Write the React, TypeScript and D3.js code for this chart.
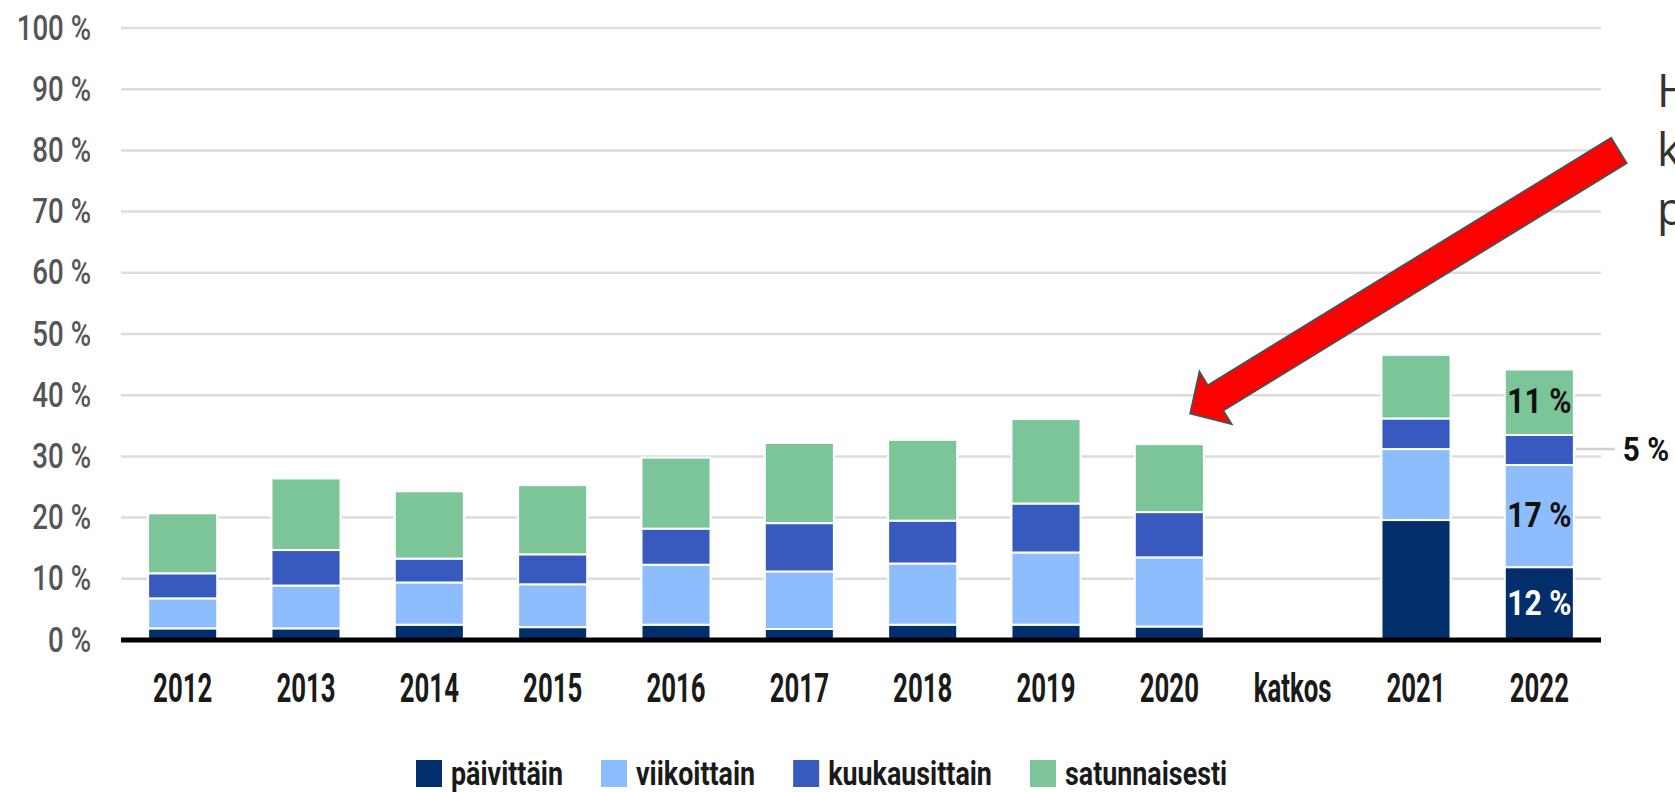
import React from 'react';
import * as d3 from 'd3';

const categories = ['2012', '2013', '2014', '2015', '2016', '2017', '2018', '2019', '2020', 'katkos', '2021', '2022'];
const paivittain = [1.9, 1.9, 2.5, 2.1, 2.5, 1.8, 2.5, 2.5, 2.2, null, 19.6, 11.9];
const viikoittain = [4.9, 7.0, 6.9, 7.0, 9.8, 9.4, 10.0, 11.8, 11.3, null, 11.6, 16.7];
const kuukausittain = [4.1, 5.8, 3.9, 4.9, 5.9, 7.9, 7.0, 8.0, 7.4, null, 5.0, 4.9];
const satunnaisesti = [9.8, 11.7, 11.0, 11.3, 11.6, 13.1, 13.2, 13.8, 11.1, null, 10.4, 10.7];
const seriesNames = ['päivittäin', 'viikoittain', 'kuukausittain', 'satunnaisesti'];
const seriesColors = ['#022f6b', '#8ebdfd', '#3859bd', '#7bc598'];
const yTicks = [0, 10, 20, 30, 40, 50, 60, 70, 80, 90, 100];
const labelledCategory = '2022';
const labelledTexts = ['12 %', '17 %', '5 %', '11 %'];
const outsideLabelIndex = 2;
const sideText = ['H', 'k', 'p'];

const W = 1675;
const H = 792;

function measure(text: string, font: string): number {
  const c = document.createElement('canvas').getContext('2d');
  if (!c) return text.length * 15;
  c.font = font;
  return c.measureText(text).width;
}

function SText(props: { x: number; y: number; sx: number; anchor?: string; size: number; weight: number; fill: string; family?: string; children: React.ReactNode }) {
  const { x, y, sx, anchor = 'start', size, weight, fill, family = 'Roboto', children } = props;
  return (
    <g transform={`translate(${x},${y}) scale(${sx},1)`}>
      <text textAnchor={anchor} fontFamily={family} fontSize={size} fontWeight={weight} fill={fill}>
        {children}
      </text>
    </g>
  );
}

export default function App() {
  const x = d3.scaleBand<string>().domain(categories).range([121, 1601]).paddingInner(0.44).paddingOuter(0.22);
  const y = d3.scaleLinear().domain([0, 100]).range([640, 28]);

  const rows = categories.map((c, i) => ({
    cat: c,
    'päivittäin': paivittain[i] ?? 0,
    'viikoittain': viikoittain[i] ?? 0,
    'kuukausittain': kuukausittain[i] ?? 0,
    'satunnaisesti': satunnaisesti[i] ?? 0,
  }));
  const stacked = d3.stack<any>().keys(seriesNames)(rows);

  // arrow annotation
  const tip: [number, number] = [(x('2020') as number) + x.bandwidth() * 0.8, y(37)];
  const tail: [number, number] = [x.range()[1] + 18, y(80)];
  const dx = tip[0] - tail[0];
  const dy = tip[1] - tail[1];
  const len = Math.hypot(dx, dy);
  const ux = dx / len, uy = dy / len;
  const px = -uy, py = ux;
  const hw = 15, hh = 31, hl = 30;
  const bx = tip[0] - ux * hl, by = tip[1] - uy * hl;
  const pts = [
    [tail[0] + px * hw, tail[1] + py * hw],
    [bx + px * hw, by + py * hw],
    [bx + px * hh, by + py * hh],
    tip,
    [bx - px * hh, by - py * hh],
    [bx - px * hw, by - py * hw],
    [tail[0] - px * hw, tail[1] - py * hw],
  ];
  const arrowPath = d3.line()(pts as [number, number][]) + 'Z';

  // legend layout
  const legendSize = 34;
  const legendSx = 0.79;
  const legendFont = `bold ${legendSize}px Roboto`;
  let lx = 416;
  const legendItems = seriesNames.map((name, i) => {
    const tw = measure(name, legendFont) * legendSx;
    const item = { name, color: seriesColors[i], x: lx, tw };
    lx += 35 + tw + 38;
    return item;
  });

  const li = categories.indexOf(labelledCategory);

  return (
    <div style={{ position: 'absolute', left: 0, top: 0 }}>
      <svg width={W} height={H} style={{ display: 'block', overflow: 'hidden' }}>
        <rect x={0} y={0} width={W} height={H} fill="#ffffff" />
        {/* grid */}
        {yTicks.filter((t) => t > 0).map((t) => (
          <line key={t} x1={121} x2={1601} y1={y(t)} y2={y(t)} stroke="#dcdcdc" strokeWidth={2.5} />
        ))}
        {/* y labels */}
        {yTicks.map((t) => (
          <SText key={t} x={91} y={y(t) + 11.5} sx={0.79} anchor="end" size={35} weight={500} fill="#555555">
            {`${t} %`}
          </SText>
        ))}
        {/* bars */}
        {stacked.map((s, si) => (
          <g key={s.key} fill={seriesColors[si]}>
            {s.map((d, i) =>
              d[1] - d[0] > 0 ? (
                <rect
                  key={i}
                  x={x(categories[i])}
                  width={x.bandwidth()}
                  y={y(d[1])}
                  height={y(d[0]) - y(d[1])}
                  stroke="#ffffff"
                  strokeWidth={2}
                />
              ) : null
            )}
          </g>
        ))}
        {/* baseline */}
        <line x1={121} x2={1601} y1={y(0)} y2={y(0)} stroke="#000000" strokeWidth={5} />
        {/* in-bar labels */}
        {stacked.map((s, si) => {
          const d = s[li];
          const mid = y((d[0] + d[1]) / 2);
          const cx = (x(labelledCategory) as number) + x.bandwidth() / 2;
          if (si === outsideLabelIndex) {
            const right = (x(labelledCategory) as number) + x.bandwidth();
            return (
              <g key={s.key}>
                <line x1={right + 2} x2={right + 41} y1={mid - 1} y2={mid - 1} stroke="#d0d0d0" strokeWidth={2.5} />
                <SText x={right + 49} y={mid + 11} sx={0.9} size={33} weight={700} fill="#111111">
                  {labelledTexts[si]}
                </SText>
              </g>
            );
          }
          return (
            <SText key={s.key} x={cx} y={mid + 11} sx={0.86} anchor="middle" size={35} weight={700} fill={si === 0 ? '#ffffff' : '#111111'}>
              {labelledTexts[si]}
            </SText>
          );
        })}
        {/* x labels */}
        {categories.map((c) => (
          <SText key={c} x={(x(c) as number) + x.bandwidth() / 2} y={702} sx={0.645} anchor="middle" size={40} weight={700} fill="#1a1a1a">
            {c}
          </SText>
        ))}
        {/* legend */}
        {legendItems.map((it) => (
          <g key={it.name}>
            <rect x={it.x} y={760} width={26} height={27} fill={it.color} />
            <SText x={it.x + 35} y={785} sx={legendSx} size={legendSize} weight={700} fill="#1a1a1a">
              {it.name}
            </SText>
          </g>
        ))}
        {/* arrow */}
        <path d={arrowPath} fill="#ff0000" stroke="#2e5e63" strokeWidth={1.6} strokeLinejoin="miter" />
        {/* side text */}
        {sideText.map((t, i) => (
          <text key={i} x={1657} y={107 + i * 59} fontFamily="Open Sans" fontSize={45} fill="#333333">
            {t}
          </text>
        ))}
      </svg>
    </div>
  );
}
